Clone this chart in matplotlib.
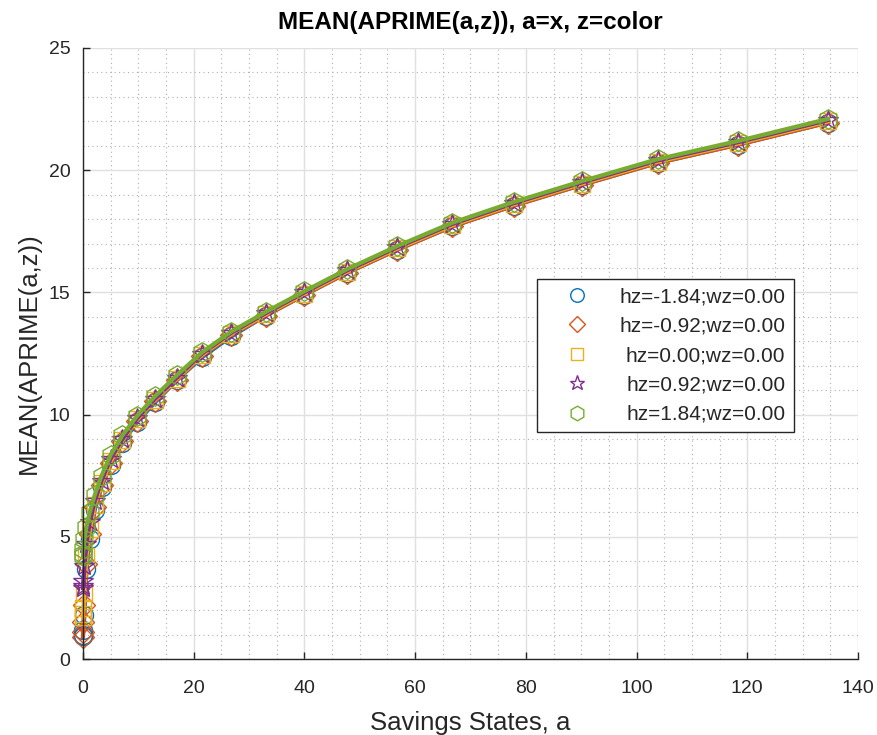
import matplotlib.pyplot as plt
from matplotlib.lines import Line2D
from matplotlib.ticker import MultipleLocator

plt.rcParams['font.family'] = ['Liberation Sans', 'DejaVu Sans']

# savings grid (x) and mean a' for each z
a_grid = [0, 0.01, 0.08, 0.26, 0.63, 1.22, 2.11, 3.35, 5.0, 7.12, 9.77, 13.0,
          16.9, 21.5, 26.8, 33.0, 40.0, 47.7, 56.8, 66.7, 77.8, 90.1, 103.8,
          118.4, 134.6]

ap_hz_m184 = [0.95, 1.0, 1.2, 1.8, 3.7, 4.9, 6.1, 7.05, 7.95, 8.85, 9.7, 10.5,
              11.4, 12.35, 13.2, 14.05, 14.9, 15.8, 16.75, 17.7, 18.55, 19.4,
              20.3, 21.05, 21.95]
ap_hz_m092 = [0.9, 1.1, 1.5, 2.2, 3.9, 5.1, 6.2, 7.1, 8.0, 8.9, 9.75, 10.55,
              11.4, 12.4, 13.25, 14.05, 14.9, 15.8, 16.75, 17.7, 18.55, 19.4,
              20.3, 21.05, 21.95]
ap_hz_000 = [1.7, 1.85, 2.1, 2.7, 4.2, 5.3, 6.3, 7.2, 8.1, 8.95, 9.8, 10.6,
             11.45, 12.45, 13.3, 14.1, 14.95, 15.85, 16.8, 17.75, 18.6, 19.45,
             20.35, 21.1, 22.0]
ap_hz_p092 = [2.9, 3.0, 3.2, 3.8, 4.7, 5.6, 6.45, 7.3, 8.2, 9.0, 9.85, 10.65,
              11.5, 12.5, 13.35, 14.15, 15.0, 15.9, 16.85, 17.8, 18.65, 19.5,
              20.4, 21.15, 22.05]
ap_hz_p184 = [4.2, 4.3, 4.5, 4.9, 5.4, 6.0, 6.7, 7.5, 8.35, 9.15, 9.95, 10.75,
              11.6, 12.55, 13.4, 14.2, 15.05, 15.95, 16.9, 17.85, 18.7, 19.55,
              20.45, 21.2, 22.1]

labels = ['hz=-1.84;wz=0.00', 'hz=-0.92;wz=0.00', 'hz=0.00;wz=0.00',
          'hz=0.92;wz=0.00', 'hz=1.84;wz=0.00']
series = [ap_hz_m184, ap_hz_m092, ap_hz_000, ap_hz_p092, ap_hz_p184]
colors = ['#0072BD', '#D95319', '#EDB120', '#7E2F8E', '#77AC30']
markers = ['o', 'D', 's', '*', 'h']
msizes = [13, 11, 11, 15, 14]

fig = plt.figure(figsize=(8.78, 7.35), dpi=100)
ax = fig.add_axes([83 / 878, 1 - 659 / 735, 775 / 878, 611 / 735])

# grid first so the lines sit on top
ax.set_axisbelow(True)
ax.grid(True, which='major', color='#e0e0e0', linewidth=1.0)
ax.grid(True, which='minor', color='#b0b0b0', linestyle=(0, (1, 3)), linewidth=0.8)

handles = []
for y, c, m, ms, lab in zip(series, colors, markers, msizes, labels):
    ax.plot(a_grid, y, color=c, linewidth=3, marker=m, markersize=ms,
            markerfacecolor='none', markeredgecolor=c, markeredgewidth=1.0,
            clip_on=False)
    handles.append(Line2D([], [], linestyle='none', marker=m, markersize=ms * 0.75,
                          markerfacecolor='none', markeredgecolor=c,
                          markeredgewidth=1.0, label=lab))

ax.set_xlim(0, 140)
ax.set_ylim(0, 25)
ax.xaxis.set_major_locator(MultipleLocator(20))
ax.yaxis.set_major_locator(MultipleLocator(5))
ax.xaxis.set_minor_locator(MultipleLocator(5))
ax.yaxis.set_minor_locator(MultipleLocator(1))
ax.tick_params(which='major', direction='in', length=5, width=1,
               labelsize=14, colors='#262626')
ax.tick_params(axis='x', which='major', pad=15)
ax.tick_params(axis='y', which='major', pad=9)
ax.tick_params(which='minor', length=0)

for side in ['top', 'right']:
    ax.spines[side].set_visible(False)
for side in ['left', 'bottom']:
    ax.spines[side].set_color('#262626')
    ax.spines[side].set_linewidth(1.0)

ax.set_xlabel('Savings States, a', fontsize=18.5, color='#262626', labelpad=10)
ax.set_ylabel('MEAN(APRIME(a,z))', fontsize=18.5, color='#262626', labelpad=6)
ax.set_title('MEAN(APRIME(a,z)), a=x, z=color', fontsize=17.5, fontweight='bold',
             color='black', pad=14)

leg = ax.legend(handles=handles, loc='upper left', bbox_to_anchor=(0.586, 0.622),
                fontsize=15, frameon=True, fancybox=False, framealpha=1,
                edgecolor='#262626', handlelength=3.0, handletextpad=0.55,
                borderpad=0.4, labelspacing=0.5, borderaxespad=0)
leg.get_frame().set_linewidth(1.0)
for t in leg.get_texts():
    t.set_color('#262626')

# right-align the legend texts, keep the markers in one column
fig.canvas.draw()
renderer = fig.canvas.get_renderer()
col = leg._legend_handle_box.get_children()[0]
rows = col.get_children()
maxw = max(row.get_bbox(renderer).width for row in rows)
for row in rows:
    row.mode = 'expand'
col.width = maxw

fig.savefig('out.png', dpi=100, facecolor='white')
